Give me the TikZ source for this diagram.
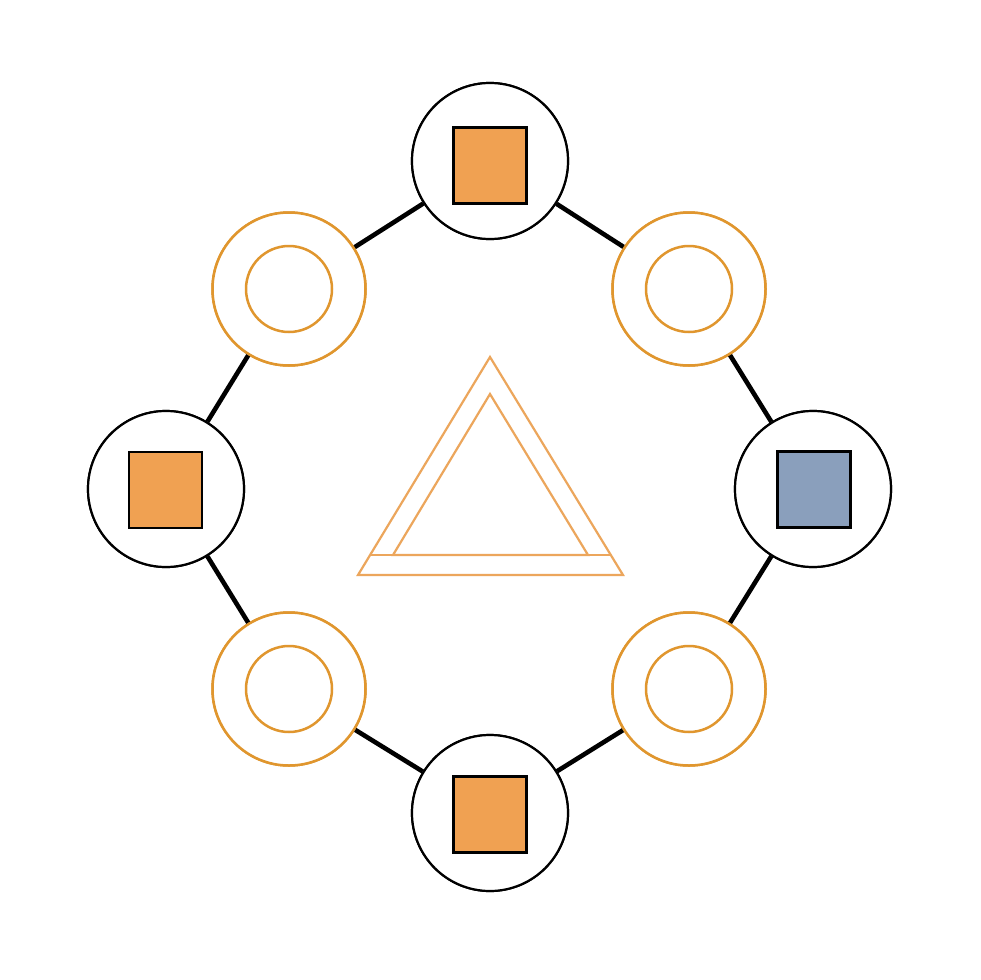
\documentclass[tikz,border=0pt]{standalone}
\begin{document}
\begin{tikzpicture}[x=1pt,y=-1pt,
  hub/.style={circle,draw=black,line width=2.2pt,fill=white,minimum size=156pt,inner sep=0pt},
  ringout/.style={circle,draw=ringc,line width=2.5pt,fill=white,minimum size=153pt,inner sep=0pt},
  ringin/.style={circle,draw=ringc,line width=2.5pt,minimum size=86pt,inner sep=0pt},
  sq/.style={rectangle,draw=black,line width=2.2pt,minimum width=73pt,minimum height=76pt,inner sep=0pt},
  link/.style={draw=black,line width=4.6pt},
  tri/.style={draw=tric,line width=2.2pt,line join=miter}]
\definecolor{sqorange}{RGB}{240,161,82}
\definecolor{sqblue}{RGB}{138,159,188}
\definecolor{ringc}{RGB}{224,150,46}
\definecolor{tric}{RGB}{236,166,92}
\useasboundingbox (0,0) rectangle (980,980);
\fill[white] (0,0) rectangle (980,980);
% hubs
\node[hub] (T) at (490,161) {};
\node[hub] (R) at (813,489) {};
\node[hub] (B) at (490,813) {};
\node[hub] (L) at (166,489) {};
% rings
\node[ringout] (TL) at (289,289) {};
\node[ringout] (TR) at (689,289) {};
\node[ringout] (BL) at (289,689) {};
\node[ringout] (BR) at (689,689) {};
% links
\draw[link] (T) -- (TL);
\draw[link] (TL) -- (L);
\draw[link] (L) -- (BL);
\draw[link] (BL) -- (B);
\draw[link] (B) -- (BR);
\draw[link] (BR) -- (R);
\draw[link] (R) -- (TR);
\draw[link] (TR) -- (T);
% redraw node outlines over link ends
\node[hub] at (T) {};
\node[hub] at (R) {};
\node[hub] at (B) {};
\node[hub] at (L) {};
\node[ringout] at (TL) {};
\node[ringout] at (TR) {};
\node[ringout] at (BL) {};
\node[ringout] at (BR) {};
\node[ringin] (TLi) at (TL) {};
\node[ringin] (TRi) at (TR) {};
\node[ringin] (BLi) at (BL) {};
\node[ringin] (BRi) at (BR) {};
% squares
\node[sq,fill=sqorange] (Ts) at (490,165.5) {};
\node[sq,fill=sqblue] (Rs) at (814,489.5) {};
\node[sq,fill=sqorange] (Bs) at (490,814.5) {};
\node[sq,fill=sqorange] (Ls) at (165.5,490) {};
% triangle
\draw[tri] (490,357) -- (623,575) -- (358,575) -- cycle;
\draw[tri] (490,394) -- (588,555) -- (393,555) -- cycle;
\draw[tri] (371,555) -- (611,555);
\end{tikzpicture}
\end{document}
